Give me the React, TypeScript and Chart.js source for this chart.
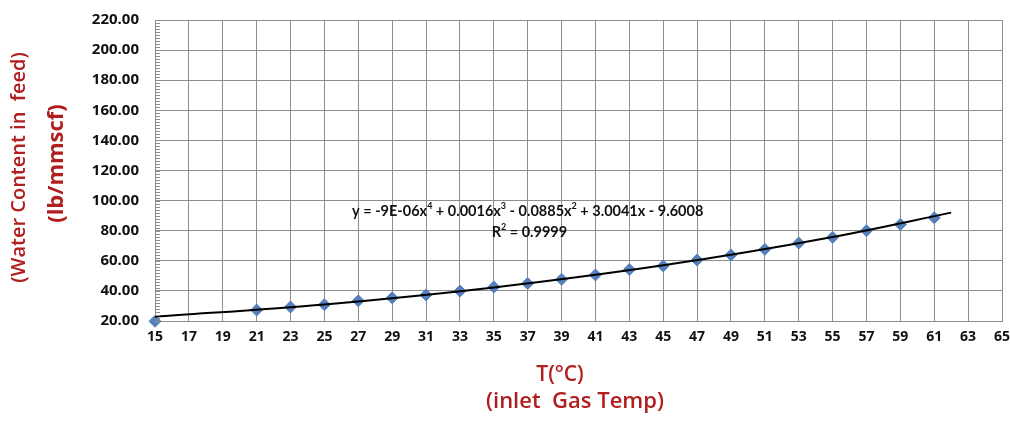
import React, { useEffect, useRef } from "react";
import { Chart, registerables } from "chart.js";

Chart.register(...registerables);

const tempC = [15, 21, 23, 25, 27, 29, 31, 33, 35, 37, 39, 41, 43, 45, 47, 49, 51, 53, 55, 57, 59, 61];
const waterContent = [19.8, 27.3, 29.3, 30.8, 33.4, 35.4, 37.3, 39.9, 42.6, 45.0, 47.7, 50.6, 54.2, 56.6, 60.5, 63.9, 67.6, 71.8, 75.6, 80.0, 84.2, 88.6];
const trendX = [15, 25, 35, 45, 55, 62];
const trendY = [22.8, 31.0, 42.3, 57.0, 75.8, 92.0];
const yTitle1 = "(Water Content in  feed)";
const yTitle2 = "(lb/mmscf)";
const xTitle1 = "T(\u00B0C)";
const xTitle2 = "(inlet  Gas Temp)";

const FONT = "'Open Sans', Lato, sans-serif";
const EQFONT = "Lato, 'Open Sans', sans-serif";
const RED = "#b01e1e";
const GRID = "#8e8e8e";

function drawSup(ctx: CanvasRenderingContext2D, parts: { t: string; sup?: boolean }[], cx: number, cy: number, size: number) {
  const base = `bold ${size}px ${EQFONT}`;
  const small = `bold ${Math.round(size * 0.65)}px ${EQFONT}`;
  let total = 0;
  for (const p of parts) {
    ctx.font = p.sup ? small : base;
    total += ctx.measureText(p.t).width;
  }
  let x = cx - total / 2;
  ctx.textBaseline = "middle";
  ctx.textAlign = "left";
  for (const p of parts) {
    ctx.font = p.sup ? small : base;
    ctx.fillText(p.t, x, p.sup ? cy - size * 0.35 : cy);
    x += ctx.measureText(p.t).width;
  }
}

const extrasPlugin = {
  id: "extras",
  afterDatasetsDraw(chart: any) {
    const ctx = chart.ctx as CanvasRenderingContext2D;
    const xs = chart.scales.x;
    const ys = chart.scales.y;
    const area = chart.chartArea;
    ctx.save();
    // minor ticks on y axis
    ctx.strokeStyle = GRID;
    ctx.lineWidth = 1;
    for (let v = 20; v <= 220; v += 2) {
      const py = Math.round(ys.getPixelForValue(v)) + 0.5;
      ctx.beginPath();
      ctx.moveTo(area.left, py);
      ctx.lineTo(area.left + 5, py);
      ctx.stroke();
    }
    // equation text
    ctx.fillStyle = "#111";
    const ex = xs.getPixelForValue(37.0);
    const ey = ys.getPixelForValue(93);
    drawSup(ctx, [
      { t: "y = -9E-06x" }, { t: "4", sup: true },
      { t: " + 0.0016x" }, { t: "3", sup: true },
      { t: " - 0.0885x" }, { t: "2", sup: true },
      { t: " + 3.0041x - 9.6008" },
    ], ex, ey, 14.5);
    const rx = xs.getPixelForValue(37.1);
    const ry = ys.getPixelForValue(79);
    drawSup(ctx, [{ t: "R" }, { t: "2", sup: true }, { t: " = 0.9999" }], rx, ry, 14.5);

    // axis titles
    ctx.fillStyle = RED;
    ctx.textAlign = "center";
    ctx.textBaseline = "middle";
    const midY = (area.top + area.bottom) / 2;
    ctx.save();
    ctx.translate(19, midY);
    ctx.rotate(-Math.PI / 2);
    ctx.font = `600 20px ${FONT}`;
    ctx.fillText(yTitle1, 3, 0);
    ctx.restore();
    ctx.save();
    ctx.translate(57, midY);
    ctx.rotate(-Math.PI / 2);
    ctx.font = `bold 22px ${FONT}`;
    ctx.fillText(yTitle2, 7, 0);
    ctx.restore();

    ctx.font = `600 21px ${FONT}`;
    ctx.fillText(xTitle1, 560, 375);
    ctx.font = `600 22px ${FONT}`;
    ctx.fillText(xTitle2, 575, 402);
    ctx.restore();
  },
};

export default function App() {
  const ref = useRef<HTMLCanvasElement>(null);
  useEffect(() => {
    document.body.style.margin = "0";
    const canvas = ref.current!;
    const chart = new Chart(canvas, {
      type: "scatter",
      data: {
        datasets: [
          {
            label: "trend",
            data: trendX.map((x, i) => ({ x, y: trendY[i] })),
            showLine: true,
            borderColor: "#000",
            borderWidth: 2,
            pointRadius: 0,
            cubicInterpolationMode: "monotone",
            order: 0,
          },
          {
            label: "data",
            data: tempC.map((x, i) => ({ x, y: waterContent[i] })),
            backgroundColor: "#5580bb",
            borderColor: "#5580bb",
            pointStyle: "rectRot",
            pointRadius: 6,
            clip: false,
            order: 1,
          },
        ],
      },
      options: {
        animation: false,
        responsive: false,
        maintainAspectRatio: false,
        layout: { padding: { top: 20, right: 8, left: 0, bottom: 0 } },
        plugins: { legend: { display: false }, tooltip: { enabled: false } },
        scales: {
          x: {
            type: "linear",
            min: 15,
            max: 65,
            afterFit: (s: any) => { s.height = 100; s.paddingLeft = 0; s.paddingRight = 0; },
            ticks: {
              stepSize: 2,
              color: "#111",
              font: { family: FONT, size: 14, weight: "bold" },
              padding: 8,
            },
            grid: { color: GRID, drawTicks: false, lineWidth: 1 },
            border: { color: GRID },
          },
          y: {
            min: 20,
            max: 220,
            afterFit: (s: any) => { s.width = 155; s.paddingTop = 0; s.paddingBottom = 0; },
            ticks: {
              stepSize: 20,
              color: "#111",
              font: { family: FONT, size: 15, weight: "bold" },
              padding: 16,
              callback: (v: any) => Number(v).toFixed(2),
            },
            grid: { color: GRID, drawTicks: false, lineWidth: 1 },
            border: { color: GRID },
          },
        },
      },
      plugins: [extrasPlugin],
    } as any);
    return () => chart.destroy();
  }, []);
  return <canvas ref={ref} width={1010} height={421} style={{ display: "block" }} />;
}
